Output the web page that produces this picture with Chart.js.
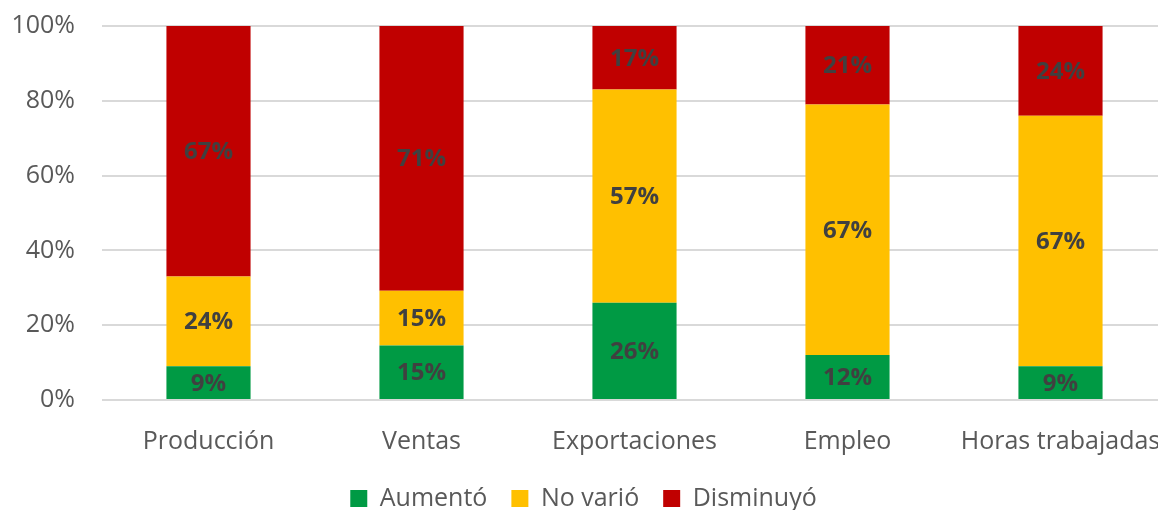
<!DOCTYPE html>
<html>
<head>
<meta charset="utf-8">
<script src="https://cdn.jsdelivr.net/npm/chart.js@4/dist/chart.umd.min.js"></script>
<style>
  html, body { margin: 0; padding: 0; background: #fff; overflow: hidden; }
  canvas { display: block; }
</style>
</head>
<body>
<canvas id="myChart" width="1170" height="521"></canvas>
<script>
const categories = ['Producción', 'Ventas', 'Exportaciones', 'Empleo', 'Horas trabajadas'];
const aumento = [9, 14.6, 26, 12, 9];
const noVario = [24, 14.6, 57, 67, 67];
const disminuyo = [67, 70.8, 17, 21, 24];
const yTicks = [0, 20, 40, 60, 80, 100];

const font = "'Open Sans', 'Noto Sans', sans-serif";

// draws the % inside each segment
const barLabels = {
  id: 'barLabels',
  afterDatasetsDraw(chart) {
    const ctx = chart.ctx;
    ctx.save();
    ctx.font = 'bold 24px ' + font;
    ctx.fillStyle = '#404040';
    ctx.textAlign = 'center';
    ctx.textBaseline = 'middle';
    chart.data.datasets.forEach((ds, i) => {
      chart.getDatasetMeta(i).data.forEach((bar, j) => {
        const y = (bar.y + bar.base) / 2;
        ctx.fillText(Math.round(ds.data[j]) + '%', bar.x, y + 1);
      });
    });
    ctx.restore();
  }
};

let ctx = document.getElementById('myChart');
new Chart(ctx, {
  type: 'bar',
  data: {
    labels: categories,
    datasets: [
      { label: 'Aumentó', data: aumento, backgroundColor: '#009A44' },
      { label: 'No varió', data: noVario, backgroundColor: '#FFC000' },
      { label: 'Disminuyó', data: disminuyo, backgroundColor: '#C00000' }
    ]
  },
  options: {
    responsive: false,
    animation: false,
    barPercentage: 0.395,
    categoryPercentage: 1,
    layout: { padding: { top: 26, right: 3, left: 0, bottom: 0 } },
    scales: {
      x: {
        stacked: true,
        grid: { display: false },
        border: { display: false },
        ticks: { color: '#595959', font: { family: font, size: 25 }, padding: 19, maxRotation: 0 },
        afterFit: (s) => { s.height = 62; s.paddingLeft = 0; s.paddingRight = 0; }
      },
      y: {
        stacked: true,
        min: 0,
        max: 100,
        afterBuildTicks: (s) => { s.ticks = yTicks.map(v => ({ value: v })); },
        grid: { color: '#d9d9d9', lineWidth: 2, drawTicks: false },
        border: { display: false },
        ticks: {
          color: '#595959',
          font: { family: font, size: 25 },
          padding: 27,
          callback: (v) => v + '%'
        },
        afterFit: (s) => { s.width = 102; s.paddingTop = 0; s.paddingBottom = 0; }
      }
    },
    plugins: {
      legend: {
        position: 'bottom',
        labels: {
          color: '#595959',
          font: { family: font, size: 25 },
          boxWidth: 17,
          boxHeight: 17,
          padding: 24
        }
      },
      tooltip: { enabled: false }
    }
  },
  plugins: [barLabels]
});
</script>
</body>
</html>
